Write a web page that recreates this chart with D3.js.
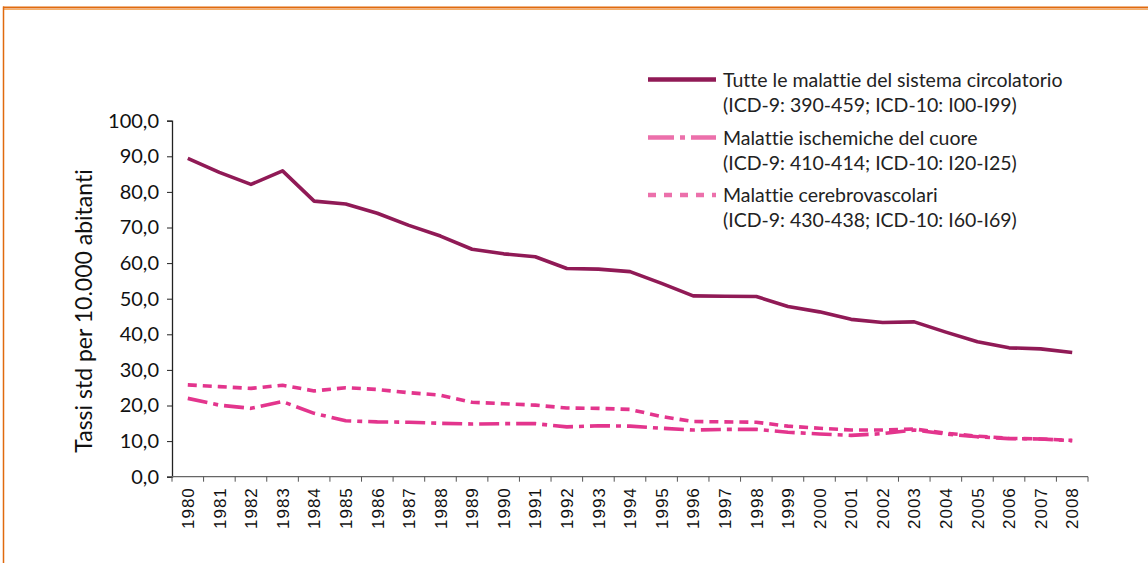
<!DOCTYPE html>
<html>
<head>
<meta charset="utf-8">
<script src="https://cdn.jsdelivr.net/npm/d3@7"></script>
<style>
  html, body { margin: 0; padding: 0; background: #fff; }
  svg { display: block; }
  text { font-variant-ligatures: none; font-feature-settings: "liga" 0, "clig" 0; }
</style>
</head>
<body>
<div id="chart"></div>
<script>
// ── Data ────────────────────────────────────────────────────────────────────
const years = d3.range(1980, 2009).map(String);

// Tutte le malattie del sistema circolatorio
const circolatorio = [89.4, 85.5, 82.1, 85.9, 77.4, 76.6, 74.0, 70.6, 67.6, 63.9,
  62.6, 61.8, 58.5, 58.3, 57.6, 54.3, 50.8, 50.7, 50.6, 47.8,
  46.3, 44.2, 43.3, 43.5, 40.6, 37.9, 36.2, 35.9, 34.9];

// Malattie ischemiche del cuore
const ischemiche = [22.0, 20.1, 19.2, 21.1, 17.8, 15.7, 15.4, 15.3, 15.0, 14.8,
  14.9, 14.9, 14.0, 14.3, 14.2, 13.6, 13.1, 13.3, 13.3, 12.5,
  12.0, 11.6, 12.1, 13.1, 12.0, 11.2, 10.7, 10.6, 10.1];

// Malattie cerebrovascolari
const cerebro = [25.8, 25.3, 24.8, 25.7, 24.1, 25.0, 24.5, 23.6, 22.9, 20.9,
  20.5, 20.1, 19.3, 19.2, 18.9, 16.9, 15.5, 15.4, 15.3, 14.2,
  13.6, 13.1, 13.1, 13.4, 12.2, 11.4, 10.8, 10.6, 10.2];

const yTicks = d3.range(0, 101, 10);

const legendLabels = [
  ['Tutte le malattie del sistema circolatorio', '(ICD-9: 390-459; ICD-10: I00-I99)'],
  ['Malattie ischemiche del cuore', '(ICD-9: 410-414; ICD-10: I20-I25)'],
  ['Malattie cerebrovascolari', '(ICD-9: 430-438; ICD-10: I60-I69)']
];

// ── Styles per series ───────────────────────────────────────────────────────
const seriesStyle = [
  { values: circolatorio, color: '#901a56', legend: '#901a56', dash: null },
  { values: ischemiche,   color: '#e3358d', legend: '#ec70ab', dash: '20,6,5,6' },
  { values: cerebro,      color: '#e3358d', legend: '#ec70ab', dash: '9,6' }
];

const W = 1148, H = 563;
const FONT = 'Lato, "Open Sans", sans-serif';
const svg = d3.select('#chart').append('svg').attr('width', W).attr('height', H);

// Orange frame (top + left edge of the box)
svg.append('line').attr('x1', 3).attr('x2', W).attr('y1', 7.5).attr('y2', 7.5)
  .attr('stroke', '#e06a0e').attr('stroke-width', 2);
svg.append('line').attr('x1', 4).attr('x2', W).attr('y1', 9.5).attr('y2', 9.5)
  .attr('stroke', '#f6b06a').attr('stroke-width', 1);
svg.append('line').attr('x1', 3.5).attr('x2', 3.5).attr('y1', 6.5).attr('y2', H)
  .attr('stroke', '#e06a0e').attr('stroke-width', 1.5);

// ── Scales ──────────────────────────────────────────────────────────────────
const x = d3.scaleBand().domain(years).range([172, 1088]);
const y = d3.scaleLinear().domain([0, 100]).range([476.7, 120.7]);

const fmt = v => d3.format('.1f')(v).replace('.', ',');

// Y axis
const yAxisG = svg.append('g').attr('transform', 'translate(172,0)')
  .call(d3.axisLeft(y).tickValues(yTicks).tickFormat(fmt).tickSize(5).tickPadding(8));
yAxisG.select('.domain').attr('stroke', '#222').attr('stroke-width', 1.3);
yAxisG.selectAll('.tick line').attr('stroke', '#222').attr('stroke-width', 1);
yAxisG.selectAll('.tick text')
  .attr('font-family', FONT).attr('font-size', 20).attr('fill', '#111');

// X axis: ticks between categories
const xAxisG = svg.append('g').attr('transform', 'translate(0,476.7)');
xAxisG.append('line').attr('x1', 172).attr('x2', 1088).attr('stroke', '#666').attr('stroke-width', 1.3);
const bounds = years.map(d => x(d) + x.bandwidth()).concat([x(years[0])]);
xAxisG.selectAll('.xt').data(bounds).enter().append('line')
  .attr('x1', d => d).attr('x2', d => d).attr('y1', 0).attr('y2', 5)
  .attr('stroke', '#555').attr('stroke-width', 1);
xAxisG.selectAll('.xl').data(years).enter().append('text')
  .attr('transform', d => `translate(${x(d) + x.bandwidth() / 2 + 6.2},10.5) rotate(-90)`)
  .attr('text-anchor', 'end')
  .attr('font-family', '"Liberation Sans", Arial, sans-serif').attr('font-size', 17)
  .attr('letter-spacing', 1)
  .attr('fill', '#111')
  .text(d => d);

// Y axis title
svg.append('text')
  .attr('transform', 'translate(92,311) rotate(-90)')
  .attr('text-anchor', 'middle')
  .attr('font-family', FONT).attr('font-size', 23).attr('fill', '#111')
  .text('Tassi std per 10.000 abitanti');

// ── Lines ───────────────────────────────────────────────────────────────────
const line = d3.line()
  .x((d, i) => x(years[i]) + x.bandwidth() / 2)
  .y(d => y(d));

seriesStyle.slice().reverse().forEach(s => {
  svg.append('path')
    .datum(s.values)
    .attr('d', line)
    .attr('fill', 'none')
    .attr('stroke', s.color)
    .attr('stroke-width', 3.6)
    .attr('stroke-linejoin', 'round')
    .attr('stroke-dasharray', s.dash);
});

// ── Legend ──────────────────────────────────────────────────────────────────
const legendY = [79.5, 137.5, 195];
const legend = svg.append('g');
seriesStyle.forEach((s, i) => {
  legend.append('line')
    .attr('x1', 648).attr('x2', 716).attr('y1', legendY[i]).attr('y2', legendY[i])
    .attr('stroke', s.legend).attr('stroke-width', 4.5)
    .attr('stroke-dasharray', i === 1 ? '26,6,5,6' : (i === 2 ? '8,8' : null));
  legendLabels[i].forEach((t, j) => {
    legend.append('text')
      .attr('x', 723).attr('y', legendY[i] + 7 + j * 25)
      .attr('font-family', FONT).attr('font-size', 19.5).attr('fill', '#222')
      .text(t);
  });
});
</script>
</body>
</html>
